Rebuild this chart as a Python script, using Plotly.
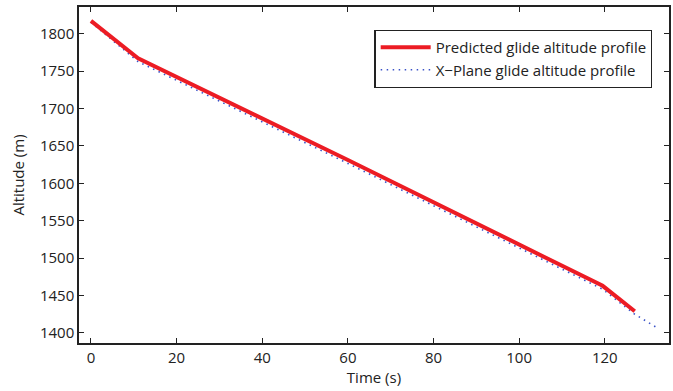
import plotly.graph_objects as go

# Data
pred_time = [0, 11, 60, 119.5, 127]
pred_alt = [1817, 1767, 1631, 1463, 1429]

xp_time = [0, 11, 60, 119.5, 127, 132.5]
xp_alt = [1815, 1762.5, 1626.5, 1458.5, 1425, 1406]

x_ticks = [0, 20, 40, 60, 80, 100, 120]
y_ticks = [1400, 1450, 1500, 1550, 1600, 1650, 1700, 1750, 1800]

FONT = "Open Sans"
FS = 15

fig = go.Figure()
fig.add_trace(go.Scatter(
    x=xp_time, y=xp_alt, mode="lines", name="X\u2212Plane glide altitude profile",
    line=dict(color="#3a52c8", width=1.6, dash="1.5px,4.5px"),
))
fig.add_trace(go.Scatter(
    x=pred_time, y=pred_alt, mode="lines", name="Predicted glide altitude profile",
    line=dict(color="#ec1c24", width=4),
))

axis_common = dict(
    showline=True, linecolor="#222", linewidth=1.5, mirror="ticks",
    ticks="inside", ticklen=5, tickcolor="#222", tickwidth=1,
    showgrid=False, zeroline=False,
    tickfont=dict(family=FONT, size=FS, color="#222"),
)

fig.update_xaxes(range=[-2.8, 135], tickvals=x_ticks,
                 title=dict(text="Time (s)", font=dict(family=FONT, size=FS, color="#222"), standoff=4),
                 **axis_common)
fig.update_yaxes(range=[1386.6, 1835.5], tickvals=y_ticks,
                 title=dict(text="Altitude (m)", font=dict(family=FONT, size=FS, color="#222"), standoff=12),
                 **axis_common)

fig.update_layout(
    width=673, height=391,
    margin=dict(l=79, r=2, t=7, b=48),
    plot_bgcolor="white", paper_bgcolor="white",
    showlegend=True,
    legend=dict(
        x=0.972, y=0.932, xanchor="right", yanchor="top",
        bordercolor="#222", borderwidth=1.2, bgcolor="white",
        traceorder="reversed",
        font=dict(family=FONT, size=FS, color="#222"),
        tracegroupgap=0, itemwidth=50,
    ),
)

fig.write_html("out.html")
